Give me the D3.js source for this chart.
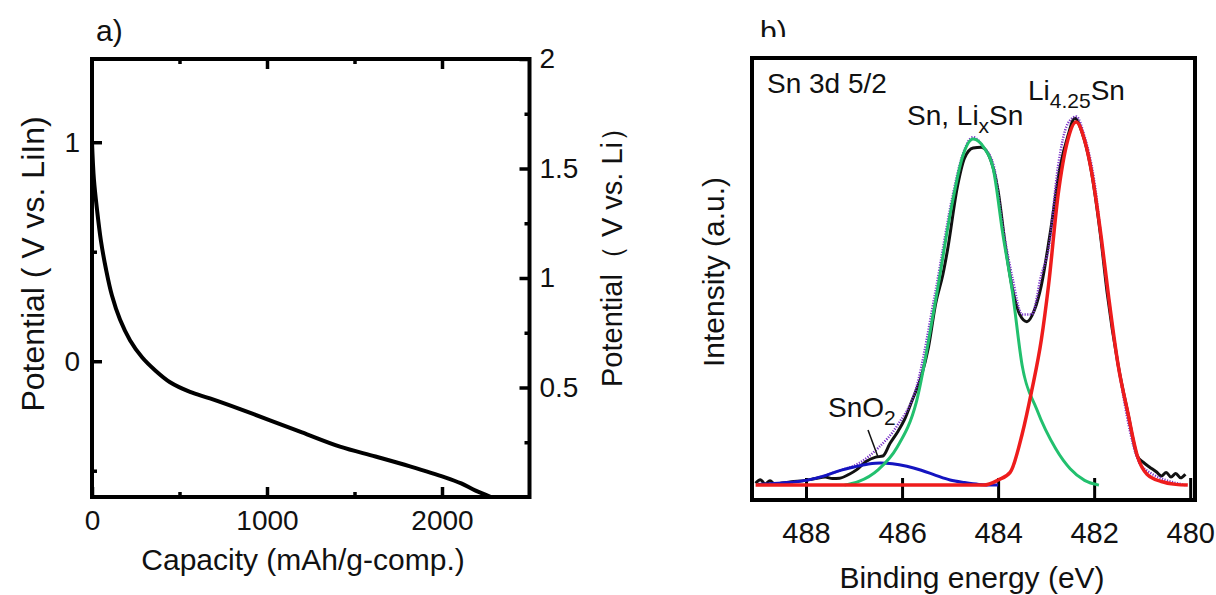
<!DOCTYPE html>
<html>
<head>
<meta charset="utf-8">
<script src="https://cdn.jsdelivr.net/npm/d3@7"></script>
<style>
  body { margin: 0; background: #fff; }
  text { font-family: "Liberation Sans", Arial, sans-serif; fill: #111; }
</style>
</head>
<body>
<script>
// ---- panel a) : discharge curve ----
const capacity  = [0, 11, 29, 51, 80, 114, 160, 217, 286, 360, 446, 560, 674, 850, 1017, 1200, 1417, 1620, 1817, 2017, 2110, 2189, 2280];
const potential = [1.0, 0.83, 0.69, 0.55, 0.42, 0.30, 0.19, 0.096, 0.018, -0.041, -0.096, -0.14, -0.17, -0.22, -0.27, -0.325, -0.39, -0.435, -0.48, -0.53, -0.558, -0.59, -0.62];
const capTicks = [0, 1000, 2000];
const capMinor = [500, 1500];
const leftTicks = [0, 1];
const leftMinor = [-0.5, 0.5];
const rightTicks = [0.5, 1, 1.5, 2];
const rightMinor = [0.25, 0.75, 1.25, 1.75];

// ---- panel b) : Sn 3d 5/2 XPS ----
const measE = [489.05, 488.95, 488.85, 488.75, 488.65, 488.5, 488.3, 488.0, 487.8, 487.6, 487.45, 487.3, 487.1, 486.95, 486.75, 486.55, 486.4, 486.25, 486.1, 485.95, 485.8, 485.6, 485.45, 485.3, 485.15, 485.05, 484.85, 484.7, 484.52, 484.35, 484.2, 484.0, 483.85, 483.7, 483.55, 483.4, 483.25, 483.1, 482.92, 482.71, 482.55, 482.4, 482.25, 482.08, 481.87, 481.73, 481.5, 481.3, 481.1, 480.98, 480.85, 480.7, 480.6, 480.5, 480.4, 480.3, 480.2, 480.1];
const measI = [0.5, 1.5, 0.3, 1.2, 0.2, 0.6, 0.9, 1.3, 1.8, 2.2, 1.8, 1.9, 3.0, 4.2, 6.5, 7.7, 8.0, 11.5, 14.5, 18, 23, 30, 38, 50, 58, 65, 82, 90, 92.8, 93, 91, 81, 66, 54, 47, 45, 48, 55, 69, 87.6, 96, 101, 97, 88, 69, 53, 33, 20, 8, 6.3, 5, 3.6, 2.5, 3.5, 2.2, 3.2, 2.0, 3.0];
const fitE = [489.0, 488.0, 487.3, 486.9, 486.5, 486.1, 485.7, 485.3, 484.95, 484.75, 484.52, 484.3, 484.1, 483.9, 483.7, 483.5, 483.3, 483.1, 482.95, 482.75, 482.55, 482.375, 482.2, 482.0, 481.8, 481.5, 481.0, 480.1];
const fitI = [0.2, 1.3, 4.0, 6.0, 10.2, 16.4, 27, 53.7, 79.5, 90.5, 95.8, 93, 88.4, 71, 57, 47, 47, 58, 65, 88, 99.5, 101.5, 96, 84, 62, 33, 5, 0];
const snE = [487.2, 486.9, 486.5, 486.1, 485.7, 485.3, 484.95, 484.75, 484.52, 484.3, 484.1, 483.9, 483.7, 483.5, 483.2, 482.8, 482.5, 482.2, 481.9];
const snI = [0, 1, 4.2, 10.5, 23, 51, 78, 90, 95.3, 93, 87, 69, 53, 33, 21, 10, 4.5, 1.3, 0];
const liE = [489.05, 484.3, 484.0, 483.75, 483.5, 483.3, 483.1, 482.95, 482.75, 482.55, 482.375, 482.2, 482.05, 481.85, 481.7, 481.5, 481.3, 481.1, 480.9, 480.6, 480.3, 480.05];
const liI = [0, 0, 1.4, 3.5, 14, 26, 40, 55, 80, 95, 100, 95, 86, 68, 52, 33, 20, 8, 3, 1, 0.2, 0];
const oxE = [489.0, 488.5, 488.0, 487.6, 487.3, 487.0, 486.7, 486.45, 486.2, 485.9, 485.6, 485.3, 485.0, 484.7, 484.4, 484.0];
const oxI = [0.2, 0.6, 1.3, 2.6, 4.0, 5.0, 5.8, 6.1, 5.9, 5.2, 4.1, 2.7, 1.4, 0.7, 0.2, 0];
const energyTicks = [488, 486, 484, 482, 480];

const W = 1216, H = 595;
const svg = d3.select('body').append('svg')
  .attr('width', W)
  .attr('height', H);

// ========== panel a ==========
const x = d3.scaleLinear().domain([0, 2500]).range([92, 529.5]);
const yL = d3.scaleLinear().domain([-0.62, 1.38]).range([497, 59]);
const yR = d3.scaleLinear().domain([0, 2]).range([497, 59]);

const gA = svg.append('g');

function styleAxis(g, size, width) {
  g.select('.domain').remove();
  g.selectAll('.tick line').attr('stroke', '#000').attr('stroke-width', width);
  g.selectAll('.tick text').style('font-size', size + 'px').attr('fill', '#111');
}

// bottom
gA.append('g').attr('transform', 'translate(0,497)')
  .call(d3.axisBottom(x).tickValues(capTicks).tickSize(-10).tickPadding(13).tickFormat(d3.format('d')))
  .call(g => styleAxis(g, 28, 3.5));
gA.append('g').attr('transform', 'translate(0,497)')
  .call(d3.axisBottom(x).tickValues(capMinor).tickSize(-5).tickFormat(''))
  .call(g => styleAxis(g, 28, 3.5));
// top
gA.append('g').attr('transform', 'translate(0,59)')
  .call(d3.axisTop(x).tickValues(capTicks.slice(1)).tickSize(-10).tickFormat(''))
  .call(g => styleAxis(g, 28, 3.5));
gA.append('g').attr('transform', 'translate(0,59)')
  .call(d3.axisTop(x).tickValues(capMinor).tickSize(-5).tickFormat(''))
  .call(g => styleAxis(g, 28, 3.5));
// left
gA.append('g').attr('transform', 'translate(92,0)')
  .call(d3.axisLeft(yL).tickValues(leftTicks).tickSize(-10).tickPadding(12).tickFormat(d3.format('d')))
  .call(g => styleAxis(g, 28, 3.5));
gA.append('g').attr('transform', 'translate(92,0)')
  .call(d3.axisLeft(yL).tickValues(leftMinor).tickSize(-5).tickFormat(''))
  .call(g => styleAxis(g, 28, 3.5));
// right
gA.append('g').attr('transform', 'translate(529.5,0)')
  .call(d3.axisRight(yR).tickValues(rightTicks).tickSize(-10).tickPadding(10).tickFormat(d => d3.format('')(d)))
  .call(g => styleAxis(g, 28, 3.5));
gA.append('g').attr('transform', 'translate(529.5,0)')
  .call(d3.axisRight(yR).tickValues(rightMinor).tickSize(-5).tickFormat(''))
  .call(g => styleAxis(g, 28, 3.5));

gA.append('rect')
  .attr('x', 92).attr('y', 59)
  .attr('width', 529.5 - 92).attr('height', 497 - 59)
  .attr('fill', 'none').attr('stroke', '#000').attr('stroke-width', 4);

const lineA = d3.line()
  .x((d, i) => x(capacity[i]))
  .y(d => yL(d))
  .curve(d3.curveCatmullRom.alpha(0.5));

gA.append('path')
  .attr('d', lineA(potential))
  .attr('fill', 'none')
  .attr('stroke', '#000')
  .attr('stroke-width', 4);

gA.append('text').attr('x', 96).attr('y', 41).style('font-size', '30px').text('a)');

gA.append('text')
  .attr('x', 303).attr('y', 570)
  .attr('text-anchor', 'middle')
  .style('font-size', '30px')
  .text('Capacity (mAh/g-comp.)');

gA.append('text')
  .attr('transform', 'translate(44,264) rotate(-90)')
  .attr('text-anchor', 'middle')
  .style('font-size', '32px')
  .text('Potential ( V vs. LiIn)');

gA.append('text')
  .attr('transform', 'translate(622,250) rotate(-90)')
  .attr('text-anchor', 'middle')
  .style('font-size', '29px')
  .text('Potential（ V vs. Li）');

// ========== panel b ==========
const xB = d3.scaleLinear().domain([489.125, 479.9]).range([752, 1195]);
const yB = d3.scaleLinear().domain([-4.1, 117.6]).range([500, 58]);

const gB = svg.append('g');

gB.append('g').attr('transform', 'translate(0,500)')
  .call(d3.axisBottom(xB).tickValues(energyTicks).tickSize(-22).tickPadding(22).tickFormat(d3.format('d')))
  .call(g => styleAxis(g, 29, 3));

const lineB = (E) => d3.line()
  .x((d, i) => xB(E[i]))
  .y(d => yB(d))
  .curve(d3.curveMonotoneX);

gB.append('path').attr('d', lineB(measE)(measI))
  .attr('fill', 'none').attr('stroke', '#111').attr('stroke-width', 3);
gB.append('path').attr('d', lineB(fitE)(fitI))
  .attr('fill', 'none').attr('stroke', '#7a33c8').attr('stroke-width', 2.5)
  .attr('stroke-dasharray', '1.2,1.4');
gB.append('path').attr('d', lineB(oxE)(oxI))
  .attr('fill', 'none').attr('stroke', '#1414c0').attr('stroke-width', 3);
gB.append('path').attr('d', lineB(snE)(snI))
  .attr('fill', 'none').attr('stroke', '#22c06e').attr('stroke-width', 3);
gB.append('path').attr('d', lineB(liE)(liI))
  .attr('fill', 'none').attr('stroke', '#ee1c1c').attr('stroke-width', 3.5);

gB.append('rect')
  .attr('x', 752).attr('y', 58)
  .attr('width', 1195 - 752).attr('height', 500 - 58)
  .attr('fill', 'none').attr('stroke', '#000').attr('stroke-width', 4);

// clipped "b)" label
svg.append('clipPath').attr('id', 'clipB')
  .append('rect').attr('x', 740).attr('y', 0).attr('width', 80).attr('height', 37);
gB.append('text').attr('x', 760).attr('y', 42)
  .attr('clip-path', 'url(#clipB)')
  .style('font-size', '30px').text('b)');

gB.append('text').attr('x', 767).attr('y', 93).style('font-size', '28px').text('Sn 3d 5/2');

const t1 = gB.append('text').attr('x', 907).attr('y', 125).style('font-size', '28px');
t1.append('tspan').text('Sn, Li');
t1.append('tspan').attr('dy', 8).style('font-size', '21px').text('x');
t1.append('tspan').attr('dy', -8).text('Sn');

const t2 = gB.append('text').attr('x', 1028).attr('y', 100).style('font-size', '28px');
t2.append('tspan').text('Li');
t2.append('tspan').attr('dy', 8).style('font-size', '21px').text('4.25');
t2.append('tspan').attr('dy', -8).text('Sn');

const t3 = gB.append('text').attr('x', 828).attr('y', 417).style('font-size', '28px');
t3.append('tspan').text('SnO');
t3.append('tspan').attr('dy', 8).style('font-size', '21px').text('2');

gB.append('line')
  .attr('x1', 868).attr('y1', 430)
  .attr('x2', 878).attr('y2', 457)
  .attr('stroke', '#111').attr('stroke-width', 1.5);

gB.append('text')
  .attr('transform', 'translate(724,272) rotate(-90)')
  .attr('text-anchor', 'middle')
  .style('font-size', '30px')
  .text('Intensity (a.u.)');

gB.append('text')
  .attr('x', 972).attr('y', 588)
  .attr('text-anchor', 'middle')
  .style('font-size', '30px')
  .text('Binding energy (eV)');
</script>
</body>
</html>
